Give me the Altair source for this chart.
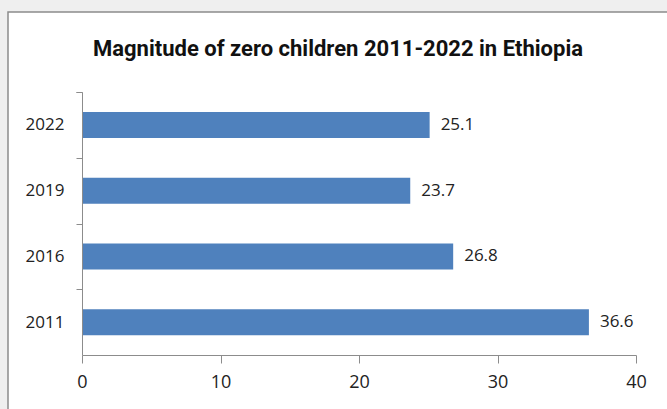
import altair as alt
import pandas as pd

years = ["2022", "2019", "2016", "2011"]
values = [25.1, 23.7, 26.8, 36.6]
x_ticks = [0, 10, 20, 30, 40]

df = pd.DataFrame({"year": years, "value": values})

FONT = "Open Sans, sans-serif"
TFONT = "Roboto, sans-serif"

W, H = 554, 263
PL, PT, PR, PB = 82, 92, 31, 54
STEP = H / 4.0

frame = alt.Chart(pd.DataFrame({"a": [0]})).mark_rect(
    fill="white", stroke="#8c8c8c", strokeWidth=1.5
).encode(
    x=alt.value(8 - PL), x2=alt.value(667 - PL + 20),
    y=alt.value(12 - PT), y2=alt.value(409 - PT + 20),
)

base = alt.Chart(df)
bars = base.mark_bar(color="#4f81bd", size=26).encode(
    x=alt.X("value:Q", scale=alt.Scale(domain=[0, 40], nice=False),
            axis=alt.Axis(values=x_ticks, title=None, grid=False, zindex=2,
                          labelFlush=False,
                          domainColor="#8c8c8c", tickColor="#8c8c8c",
                          tickSize=8, labelPadding=10, labelFontSize=18,
                          labelFont=FONT, labelColor="#222222", format="d")),
    y=alt.Y("year:N", sort=years,
            scale=alt.Scale(paddingInner=0.6, paddingOuter=0.3),
            axis=alt.Axis(title=None, grid=False, zindex=2,
                          bandPosition=0, tickOffset=-0.3 * STEP, tickExtra=True,
                          labelOffset=0.3 * STEP, labelBaseline="middle",
                          domainColor="#8c8c8c", tickColor="#8c8c8c",
                          tickSize=6, labelPadding=12, labelFontSize=17,
                          labelFont=FONT, labelColor="#222222")),
)
labels = base.mark_text(align="left", baseline="middle", dx=11, fontSize=17,
                        font=FONT, color="#222222").encode(
    x="value:Q", y=alt.Y("year:N", sort=years), text=alt.Text("value:Q", format=".1f")
)

chart = alt.layer(frame, bars, labels).properties(
    width=W, height=H,
    title=alt.TitleParams("Magnitude of zero children 2011-2022 in Ethiopia",
                          fontSize=22, font=TFONT, fontWeight="bold", zindex=3,
                          color="#111111", anchor="middle", dx=-21, offset=-50),
    background="#efefef",
    padding={"left": PL, "top": PT, "right": PR, "bottom": PB},
    autosize=alt.AutoSizeParams(type="none"),
).configure_view(stroke=None)

chart.save("out.html", embed_options={"renderer": "svg", "actions": False})
